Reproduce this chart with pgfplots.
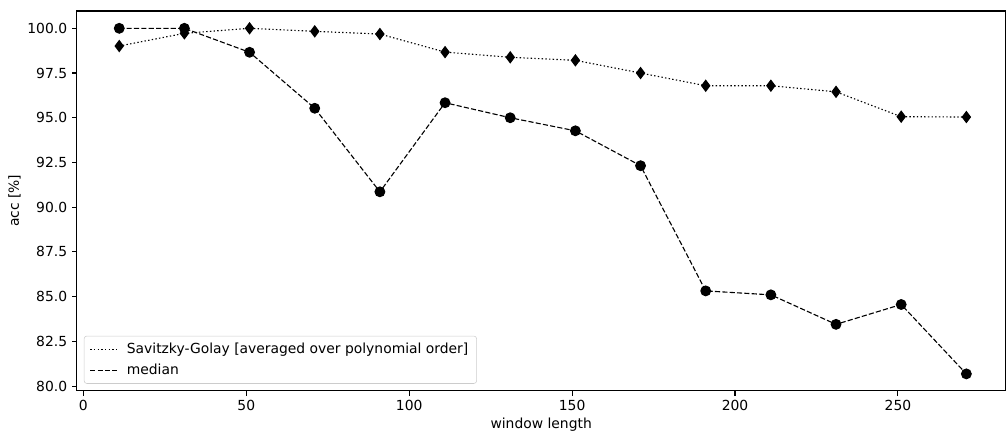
\documentclass[border=0pt]{standalone}
\usepackage{pgfplots}
\pgfplotsset{compat=1.18}
\usepackage{fontspec}
\setmainfont{DejaVu Sans}

\begin{document}
\begin{tikzpicture}
  % room around the axis, like the matplotlib figure (100 dpi -> 0.72pt per px)
  \path (-55.4pt,-31pt) rectangle (669pt,281.5pt);
  \begin{axis}[
      at={(0,0)}, anchor=south west,
      scale only axis,
      width=669pt, height=273.6pt,
      xmin=-2, xmax=283,
      ymin=79.74, ymax=100.97,
      xtick={0,50,100,150,200,250},
      ytick={80,82.5,85,87.5,90,92.5,95,97.5,100},
      yticklabel style={/pgf/number format/.cd, fixed, fixed zerofill, precision=1},
      /pgf/number format/assume math mode=true,
      tick align=outside, tick pos=left,
      major tick length=3.5pt,
      every tick/.style={black, line width=0.8pt},
      axis line style={line width=0.8pt},
      tick label style={font=\fontsize{10}{12}\selectfont},
      label style={font=\fontsize{10}{12}\selectfont},
      xlabel={window length},
      ylabel={acc [\%]},
      xlabel style={yshift=2pt},
      ylabel style={yshift=-2pt},
      legend cell align=left,
      legend style={
        at={(0,0)}, anchor=south west, xshift=5pt, yshift=5pt,
        draw=black!20, rounded corners=2pt, fill=white, fill opacity=0.8,
        text opacity=1, font=\fontsize{10}{12}\selectfont,
        row sep=2pt, column sep=4pt, inner xsep=4pt, inner ysep=3pt,
      },
      legend image code/.code={\draw[#1] (0pt,0pt) -- (20pt,0pt);},
    ]
    \addplot[black, line width=0.8pt, dash pattern=on 1pt off 1.65pt,
      mark=diamond*, mark size=3.9pt, mark options={solid}]
      coordinates {
        (11,99.01) (31,99.72) (51,100.0) (71,99.83) (91,99.68)
        (111,98.67) (131,98.38) (151,98.21) (171,97.50) (191,96.79)
        (211,96.79) (231,96.45) (251,95.06) (271,95.04)
      };
    \addlegendentry{Savitzky-Golay [averaged over polynomial order]}
    \addplot[black, line width=0.8pt, dash pattern=on 3.7pt off 1.6pt,
      mark=*, mark size=3.5pt, mark options={solid}]
      coordinates {
        (11,100.0) (31,100.0) (51,98.66) (71,95.53) (91,90.86)
        (111,95.84) (131,95.00) (151,94.27) (171,92.32) (191,85.32)
        (211,85.10) (231,83.45) (251,84.56) (271,80.68)
      };
    \addlegendentry{median}
  \end{axis}
\end{tikzpicture}
\end{document}
